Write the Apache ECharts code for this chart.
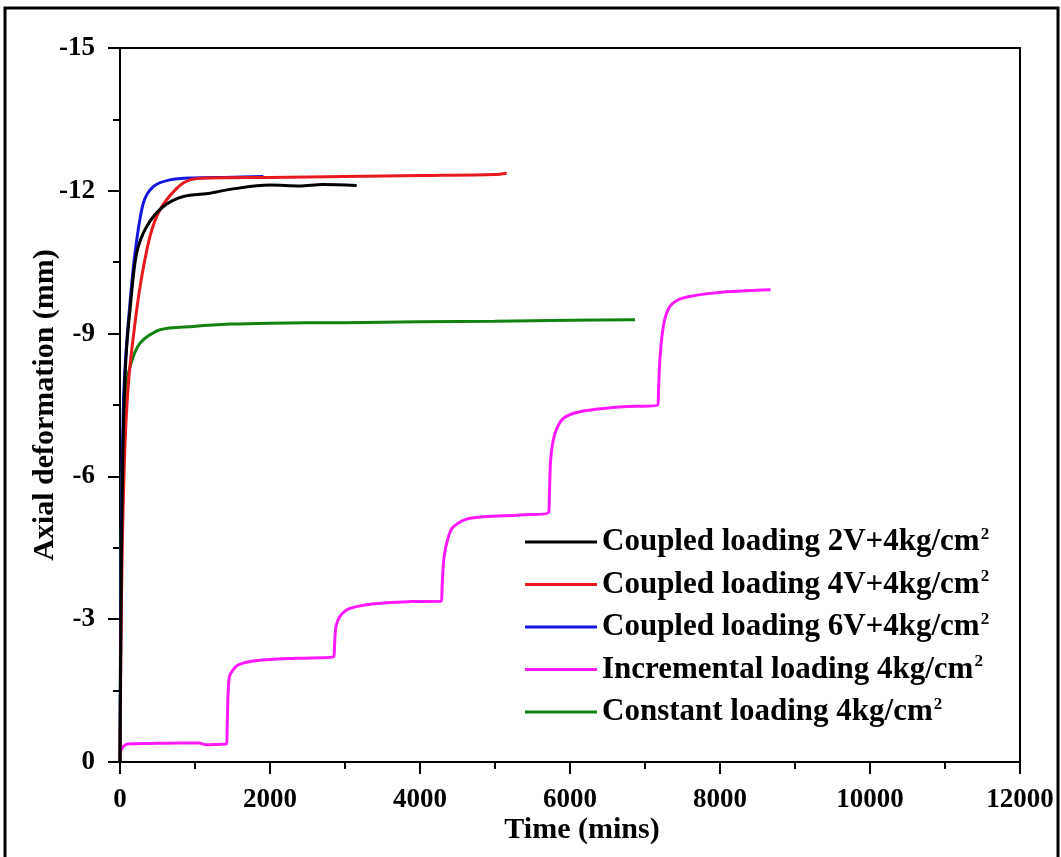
<!DOCTYPE html>
<html>
<head>
<meta charset="utf-8">
<script src="https://cdn.jsdelivr.net/npm/echarts@6/dist/echarts.min.js"></script>
<style>
  html, body { margin: 0; padding: 0; background: #fff; }
  #chart { width: 1061px; height: 857px; }
</style>
</head>
<body>
<div id="chart"></div>
<script>
// [time (mins), axial deformation (mm)]
var coupled2V = [[0,0],[8,-2],[20,-4.5],[45,-7],[80,-8.5],[142,-9.64],[222,-10.69],[356,-11.25],[578,-11.67],[844,-11.88],[1200,-11.95],[1467,-12.03],[2000,-12.12],[2400,-12.1],[2700,-12.13],[3156,-12.11]];
var coupled4V = [[0,0],[10,-2],[30,-4.5],[70,-6.8],[120,-8.1],[178,-8.94],[267,-9.98],[400,-11.04],[533,-11.6],[756,-12.05],[933,-12.23],[1200,-12.27],[2000,-12.28],[3000,-12.3],[4000,-12.32],[5000,-12.34],[5156,-12.37]];
var coupled6V = [[0,0],[8,-2.5],[20,-5],[45,-7.5],[80,-8.6],[133,-9.64],[200,-10.69],[311,-11.74],[444,-12.09],[667,-12.23],[978,-12.27],[1400,-12.28],[1911,-12.3]];
var incremental = [[0,-0.2],[40,-0.32],[100,-0.38],[400,-0.39],[800,-0.4],[1050,-0.4],[1150,-0.36],[1300,-0.37],[1420,-0.38],
  [1430,-0.8],[1440,-1.4],[1460,-1.8],[1500,-1.92],[1577,-2.04],[1832,-2.13],[2342,-2.18],[2850,-2.21],
  [2862,-2.5],[2880,-2.85],[2929,-3.05],[3056,-3.22],[3362,-3.32],[3872,-3.37],[4285,-3.38],
  [4295,-3.7],[4320,-4.3],[4378,-4.73],[4444,-4.94],[4667,-5.12],[5333,-5.19],[5715,-5.24],
  [5725,-5.6],[5745,-6.4],[5800,-6.9],[5911,-7.22],[6133,-7.36],[6667,-7.46],[7170,-7.5],
  [7180,-7.8],[7200,-8.5],[7250,-9.2],[7333,-9.57],[7511,-9.75],[7956,-9.86],[8676,-9.92]];
var constant = [[0,0],[5,-2],[15,-4.5],[35,-6.5],[70,-7.7],[133,-8.3],[267,-8.8],[533,-9.08],[978,-9.15],[1467,-9.2],[2000,-9.22],[3000,-9.23],[4000,-9.25],[5000,-9.26],[6000,-9.28],[6867,-9.29]];

var seriesNames = ['Coupled loading 2V+4kg/cm', 'Coupled loading 4V+4kg/cm', 'Coupled loading 6V+4kg/cm', 'Incremental loading 4kg/cm', 'Constant loading 4kg/cm'];
var seriesData = [coupled2V, coupled4V, coupled6V, incremental, constant];
var seriesColors = ['#000000', '#e8191e', '#1616e0', '#ff19ff', '#128212'];

var font = '"Liberation Serif", "Times New Roman", serif';

var chart = echarts.init(document.getElementById('chart'));

var series = seriesNames.map(function (name, i) {
  return {
    name: name,
    type: 'line',
    data: seriesData[i],
    showSymbol: false,
    symbol: 'none',
    smooth: 0.3,
    lineStyle: { color: seriesColors[i], width: 3 },
    itemStyle: { color: seriesColors[i] },
    z: 10 - i
  };
});

var tickStyle = { color: '#000', width: 2 };
var labelStyle = { fontFamily: font, fontWeight: 'bold', fontSize: 27, color: '#000', margin: 25 };

chart.setOption({
  animation: false,
  backgroundColor: '#fff',
  grid: {
    left: 120, right: 41, top: 48, bottom: 95,
    show: true, borderColor: '#000', borderWidth: 2
  },
  xAxis: {
    type: 'value',
    min: 0, max: 12000, interval: 2000,
    name: 'Time (mins)',
    nameLocation: 'middle',
    nameGap: 53,
    nameMoveOverlap: false,
    nameTextStyle: { fontFamily: font, fontWeight: 'bold', fontSize: 30, color: '#000', padding: [0, 0, 0, 24] },
    axisLine: { lineStyle: tickStyle },
    axisTick: { inside: false, length: 12, lineStyle: tickStyle },
    minorTick: { show: true, splitNumber: 2, length: 7, lineStyle: tickStyle },
    axisLabel: Object.assign({ formatter: function (v) { return String(v); } }, labelStyle),
    splitLine: { show: false }
  },
  yAxis: {
    type: 'value',
    inverse: true,
    min: -15, max: 0, interval: 3,
    name: 'Axial deformation (mm)',
    nameLocation: 'middle',
    nameGap: 60,
    nameMoveOverlap: false,
    nameTextStyle: { fontFamily: font, fontWeight: 'bold', fontSize: 30, color: '#000' },
    axisLine: { lineStyle: tickStyle },
    axisTick: { inside: false, length: 12, lineStyle: tickStyle },
    minorTick: { show: true, splitNumber: 2, length: 7, lineStyle: tickStyle },
    axisLabel: labelStyle,
    splitLine: { show: false }
  },
  legend: {
    orient: 'vertical',
    left: 520, top: 521,
    itemWidth: 72, itemHeight: 3, itemGap: 9.5,
    icon: 'rect',
    data: seriesNames.map(function (n, i) { return { name: n, itemStyle: { color: seriesColors[i] } }; }),
    formatter: function (name) { return '{t|' + name + '}{s|2}'; },
    textStyle: {
      rich: {
        t: { fontFamily: font, fontWeight: 'bold', fontSize: 31, color: '#000', lineHeight: 32 },
        s: { fontFamily: font, fontWeight: 'bold', fontSize: 17, color: '#000', verticalAlign: 'top', lineHeight: 32, padding: [0, 0, 16, 1] }
      }
    }
  },
  graphic: [{
    type: 'rect',
    shape: { x: 5, y: 8, width: 1053, height: 870 },
    style: { fill: null, stroke: '#000', lineWidth: 3 },
    silent: true
  }],
  series: series
});
</script>
</body>
</html>
